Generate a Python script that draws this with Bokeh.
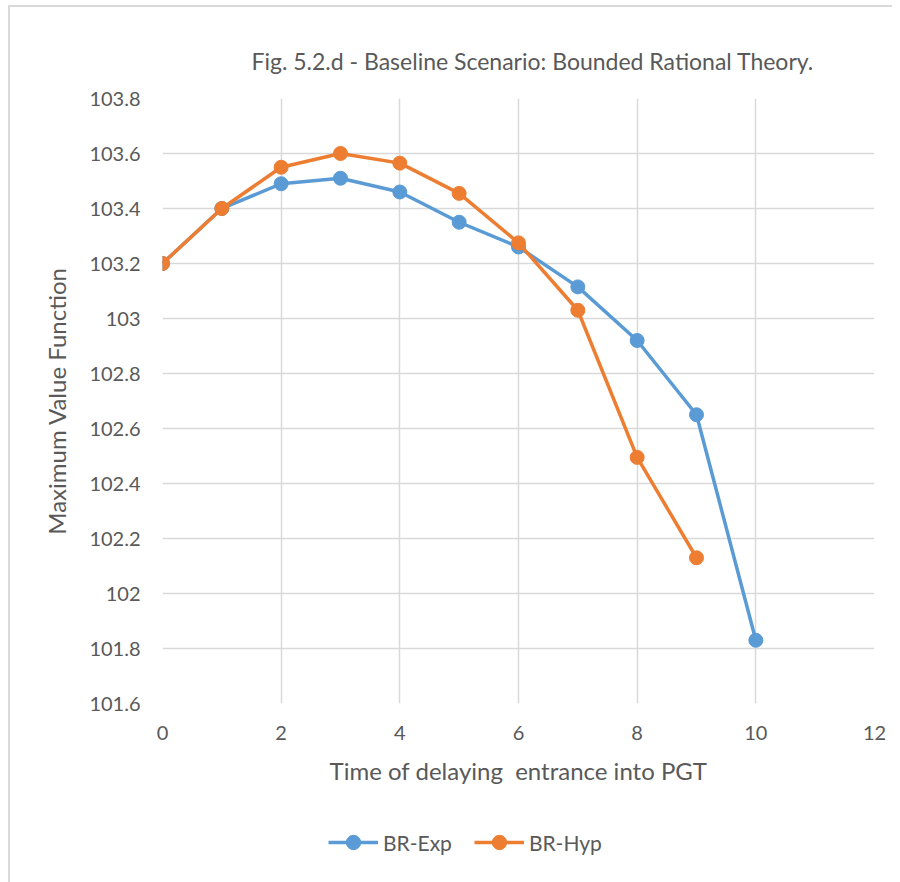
from bokeh.plotting import figure
from bokeh.layouts import column
from bokeh.models import ColumnDataSource, Legend, LegendItem, FixedTicker, CustomJSTickFormatter, Range1d
from bokeh.embed import file_html
from bokeh.resources import INLINE

x_exp = [0, 1, 2, 3, 4, 5, 6, 7, 8, 9, 10]
br_exp = [103.2, 103.4, 103.49, 103.51, 103.46, 103.35, 103.26, 103.115, 102.92, 102.65, 101.83]
x_hyp = [0, 1, 2, 3, 4, 5, 6, 7, 8, 9]
br_hyp = [103.2, 103.4, 103.55, 103.6, 103.565, 103.455, 103.275, 103.03, 102.495, 102.13]
x_ticks = [0, 2, 4, 6, 8, 10, 12]
y_ticks = [101.6, 101.8, 102.0, 102.2, 102.4, 102.6, 102.8, 103.0, 103.2, 103.4, 103.6, 103.8]
series_names = ["BR-Exp", "BR-Hyp"]

FONT = "Lato"
GREY = "#595959"
BLUE = "#5B9BD5"
ORANGE = "#ED7D31"

p = figure(frame_width=710, frame_height=603, output_backend="svg", toolbar_location=None,
           x_range=Range1d(0, 12), y_range=Range1d(101.6, 103.8),
           title="Fig. 5.2.d - Baseline Scenario: Bounded Rational Theory.")
p.margin = (5, 0, 0, 8)
p.styles = {"border-top": "2px solid #d9d9d9", "border-left": "2px solid #d9d9d9"}
p.min_border_left = 152
p.min_border_right = 20
p.min_border_top = 91
p.min_border_bottom = 97
p.outline_line_color = None
p.background_fill_color = "white"
p.border_fill_color = "white"

p.title.text_font = FONT
p.title.text_font_size = "23px"
p.title.text_font_style = "normal"
p.title.text_color = GREY
p.title.align = "left"
p.title.offset = 89
p.title.standoff = 47

src_e = ColumnDataSource(dict(x=x_exp, y=br_exp))
src_h = ColumnDataSource(dict(x=x_hyp, y=br_hyp))
p.line("x", "y", source=src_e, line_color=BLUE, line_width=3.5)
p.scatter("x", "y", source=src_e, size=14, fill_color=BLUE, line_color=BLUE)
p.line("x", "y", source=src_h, line_color=ORANGE, line_width=3.5)
p.scatter("x", "y", source=src_h, size=14, fill_color=ORANGE, line_color=ORANGE)

p.xaxis.ticker = FixedTicker(ticks=x_ticks)
p.yaxis.ticker = FixedTicker(ticks=y_ticks)
p.yaxis.formatter = CustomJSTickFormatter(code="return String(Number(tick.toFixed(1)));")
for ax in (p.xaxis[0], p.yaxis[0]):
    ax.axis_line_color = None
    ax.major_tick_line_color = None
    ax.minor_tick_line_color = None
    ax.major_tick_out = 0
    ax.major_tick_in = 0
    ax.minor_tick_out = 0
    ax.minor_tick_in = 0
    ax.major_label_text_font = FONT
    ax.major_label_text_font_size = "20px"
    ax.major_label_text_color = GREY
    ax.axis_label_text_font = FONT
    ax.axis_label_text_font_size = "24px"
    ax.axis_label_text_font_style = "normal"
    ax.axis_label_text_color = GREY
p.xaxis.axis_label = "Time of delaying\u00a0 entrance into PGT"
p.yaxis.axis_label = "Maximum Value Function"
p.xaxis.major_label_standoff = 22
p.xaxis.axis_label_standoff = 13
p.yaxis.major_label_standoff = 22
p.yaxis.axis_label_standoff = 15

p.xgrid.ticker = FixedTicker(ticks=x_ticks)
p.ygrid.ticker = FixedTicker(ticks=y_ticks)
p.grid.grid_line_color = "#d9d9d9"
p.grid.grid_line_width = 1.5

# legend strip below the chart (series drawn outside its view, only the legend shows)
q = figure(width=882, height=84, output_backend="svg", toolbar_location=None,
           x_range=Range1d(0, 1), y_range=Range1d(0, 1),
           x_axis_location=None, y_axis_location=None)
q.margin = (0, 0, 0, 8)
q.styles = {"border-left": "2px solid #d9d9d9"}
q.min_border_left = 0
q.min_border_right = 0
q.min_border_top = 0
q.min_border_bottom = 0
q.outline_line_color = None
q.grid.visible = False
q.border_fill_color = "white"

items = []
for name, src, col in zip(series_names, [src_e, src_h], [BLUE, ORANGE]):
    r1 = q.line("x", "y", source=src, line_color=col, line_width=3.5)
    r2 = q.scatter("x", "y", source=src, size=14, fill_color=col, line_color=col)
    items.append(LegendItem(label=name, renderers=[r1, r2]))

legend = Legend(items=items, orientation="horizontal", location=(166, 22))
legend.label_text_font = FONT
legend.label_text_font_size = "21px"
legend.label_text_color = GREY
legend.border_line_color = None
legend.background_fill_alpha = 0
legend.glyph_width = 50
legend.glyph_height = 36
legend.label_height = 36
legend.label_standoff = 5
legend.spacing = 22
legend.padding = 0
legend.margin = 0
q.add_layout(legend, "center")

layout = column(p, q, spacing=0)
open("out.html", "w").write(file_html(layout, INLINE))
